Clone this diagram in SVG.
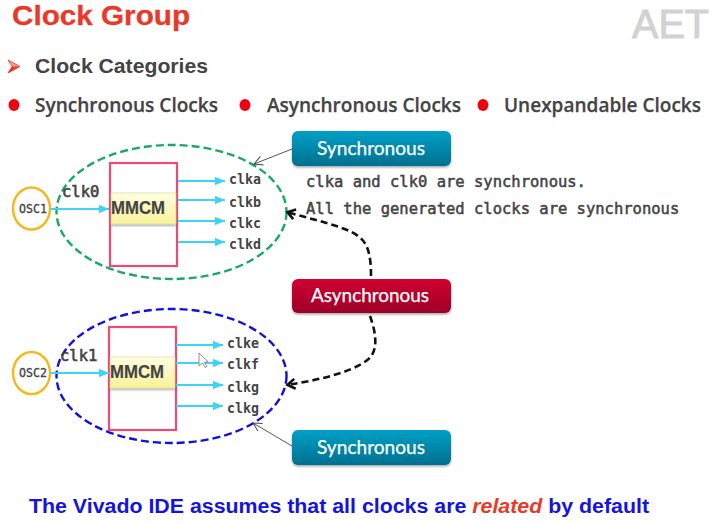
<svg xmlns="http://www.w3.org/2000/svg" width="712" height="523" viewBox="0 0 712 523">
<style>
.mono{font-family:"DejaVu Sans Mono","Liberation Mono",monospace;font-weight:700;fill:#444}
.clk{font-size:13.3px}
.note{font-size:15.5px;font-weight:400;stroke:#444;stroke-width:.5}
.clk0{font-size:15.5px;font-weight:400;stroke:#444;stroke-width:.6}
.osc{font-size:11.6px;font-weight:400;text-anchor:middle;stroke:#444;stroke-width:.3}
.mmcm{font-family:"Liberation Sans",Arial,sans-serif;font-weight:700;font-size:18.5px;fill:#444;stroke:#444;stroke-width:.2}
.btn{font-family:Lato,"Open Sans",sans-serif;font-size:19px;fill:#fff;stroke:#fff;stroke-width:.25;text-anchor:middle}
.head{font-family:"Open Sans","Noto Sans",sans-serif;font-size:19.5px;font-weight:600;fill:#444;stroke:#444;stroke-width:.25}
.cyan{stroke:#3dd3f5;stroke-width:2.2;fill:none;marker-end:url(#cy)}
.pink{fill:none;stroke:#ee4a78;stroke-width:2.2}
.yel{fill:url(#yl);stroke:#d8d68a;stroke-width:.6;filter:url(#sh)}
.oscc{fill:#fff;stroke:#f4b81c;stroke-width:2.4}
.dash{stroke:#111;stroke-width:2.6;fill:none;stroke-dasharray:7 4;marker-end:url(#bk)}
.thin{stroke:#444;stroke-width:.9;fill:none;marker-end:url(#op)}
.dot{fill:#f00010}
</style>
<defs>
<linearGradient id="bl" x1="0" y1="0" x2="0" y2="1"><stop offset="0" stop-color="#05a0c6"/><stop offset="1" stop-color="#04708f"/></linearGradient>
<linearGradient id="rd" x1="0" y1="0" x2="0" y2="1"><stop offset="0" stop-color="#cf0030"/><stop offset="1" stop-color="#9c0028"/></linearGradient>
<linearGradient id="yl" x1="0" y1="0" x2="0" y2="1"><stop offset="0" stop-color="#ffffe0"/><stop offset="1" stop-color="#f8f29a"/></linearGradient>
<filter id="sh" x="-10%" y="-10%" width="120%" height="130%"><feDropShadow dx="0" dy="1.5" stdDeviation="1.2" flood-color="#000" flood-opacity=".35"/></filter>
<marker id="cy" markerUnits="userSpaceOnUse" markerWidth="12" markerHeight="10" refX="10" refY="4.25" orient="auto"><path d="M0 0L10 4.25L0 8.500z" fill="#3dd3f5"/></marker>
<marker id="bk" markerUnits="userSpaceOnUse" markerWidth="12" markerHeight="14" refX="10" refY="6.5" orient="auto"><path d="M2 1.500L9.500 6.500L2 11.500" fill="none" stroke="#111" stroke-width="2.6"/></marker>
<marker id="op" markerUnits="userSpaceOnUse" markerWidth="12" markerHeight="12" refX="10" refY="5" orient="auto"><path d="M1.500 .5L10 5L1.500 9.500" fill="none" stroke="#444" stroke-width="1"/></marker>
</defs>
<rect width="712" height="523" fill="#fff"/>

<g id="title">
<text x="12" y="25" font-family="Liberation Sans,Arial,sans-serif" font-weight="700" font-size="27.5" fill="#e8392a" stroke="#e8392a" stroke-width=".3" textLength="178" lengthAdjust="spacingAndGlyphs">Clock Group</text>
</g>
<g id="logo"><text x="632" y="38" font-family="Liberation Sans,Arial,sans-serif" font-size="41" fill="#d2d2d2" stroke="#d2d2d2" stroke-width="1" textLength="77" lengthAdjust="spacingAndGlyphs">AET</text></g>
<g id="heading">
<path d="M8 60L20 66.500L8 73L12 66.500z" fill="#f8a090" stroke="#e8392a" stroke-width=".8"/>
<path d="M20 66.500L8 73L12 66.500z" fill="#e8392a"/>
<text x="35" y="73" font-family="Liberation Sans,Arial,sans-serif" font-weight="700" font-size="21" fill="#444" textLength="173" lengthAdjust="spacingAndGlyphs">Clock Categories</text>
</g>
<g id="categories">
<ellipse class="dot" cx="14" cy="105" rx="5.500" ry="6"/>
<text class="head" x="35" y="112" textLength="183" lengthAdjust="spacingAndGlyphs">Synchronous Clocks</text>
<ellipse class="dot" cx="245" cy="105" rx="5.500" ry="6"/>
<text class="head" x="267" y="112" textLength="194" lengthAdjust="spacingAndGlyphs">Asynchronous Clocks</text>
<ellipse class="dot" cx="483" cy="105" rx="5.500" ry="6"/>
<text class="head" x="504" y="112" textLength="197" lengthAdjust="spacingAndGlyphs">Unexpandable Clocks</text>
</g>

<g id="group-green"><ellipse cx="171.500" cy="212" rx="115" ry="67" fill="none" stroke="#1aa866" stroke-width="2.400" stroke-dasharray="8 4"/></g>
<g id="group-blue"><ellipse cx="171.500" cy="376" rx="115" ry="67" fill="none" stroke="#1010e0" stroke-width="2.400" stroke-dasharray="8 4"/></g>

<g id="osc1"><ellipse class="oscc" cx="31.500" cy="208.500" rx="18.500" ry="21"/><text class="mono osc" x="33" y="213">OSC1</text></g>
<g id="osc2"><ellipse class="oscc" cx="31.500" cy="373" rx="18.500" ry="21"/><text class="mono osc" x="33" y="377">OSC2</text></g>

<g id="mmcm1"><rect class="pink" x="110" y="163" width="67" height="103"/><rect class="yel" x="111" y="193" width="65" height="31"/><text class="mmcm" x="111" y="214" textLength="54" lengthAdjust="spacingAndGlyphs">MMCM</text></g>
<g id="mmcm2"><rect class="pink" x="109" y="327" width="67" height="103"/><rect class="yel" x="110" y="357" width="65" height="31"/><text class="mmcm" x="110" y="378" textLength="54" lengthAdjust="spacingAndGlyphs">MMCM</text></g>

<g id="connectors">
<path class="cyan" d="M51 209H109"/>
<path class="cyan" d="M178 181H225"/><path class="cyan" d="M178 200H225"/><path class="cyan" d="M178 221H225"/><path class="cyan" d="M178 242H225"/>
<path class="cyan" d="M51 373H109"/>
<path class="cyan" d="M176 345H223"/><path class="cyan" d="M176 363H223"/><path class="cyan" d="M176 385H223"/><path class="cyan" d="M176 406H223"/>
<path class="thin" d="M292 149L254 164"/>
<path class="thin" d="M292 446L253 423"/>
<path class="dash" d="M371 276C371 255 368 243 358 236C345 226 310 219 287 212"/>
<path class="dash" d="M370 316C375 330 378 345 372 355C362 370 320 380 287 385"/>
</g>

<g id="labels">
<text class="mono clk0" x="62" y="197">clk0</text>
<text class="mono clk0" x="60" y="361">clk1</text>
<text class="mono clk" x="229" y="184">clka</text>
<text class="mono clk" x="229" y="207">clkb</text>
<text class="mono clk" x="229" y="228">clkc</text>
<text class="mono clk" x="229" y="249">clkd</text>
<text class="mono clk" x="227" y="348">clke</text>
<text class="mono clk" x="227" y="369">clkf</text>
<text class="mono clk" x="227" y="392">clkg</text>
<text class="mono clk" x="227" y="413">clkg</text>
<text class="mono note" x="306" y="187">clka and clk0 are synchronous.</text>
<text class="mono note" x="306" y="214">All the generated clocks are synchronous</text>
</g>

<g id="sync1"><rect x="292" y="131" width="159" height="35" rx="6" fill="url(#bl)" filter="url(#sh)"/><text class="btn" x="371" y="155" textLength="108" lengthAdjust="spacingAndGlyphs">Synchronous</text></g>
<g id="async"><rect x="292" y="279" width="159" height="34" rx="6" fill="url(#rd)" filter="url(#sh)"/><text class="btn" x="370" y="302" textLength="118" lengthAdjust="spacingAndGlyphs">Asynchronous</text></g>
<g id="sync2"><rect x="292" y="430" width="159" height="35" rx="6" fill="url(#bl)" filter="url(#sh)"/><text class="btn" x="371" y="454" textLength="108" lengthAdjust="spacingAndGlyphs">Synchronous</text></g>

<path id="cursor" d="M199 353V366L202.500 363L205 367.500L207 366.500L204.500 362.500L208 361.500Z" fill="#fff" stroke="#777" stroke-width=".8"/>

<g id="footer"><text x="29" y="513" font-family="Liberation Sans,Arial,sans-serif" font-weight="700" font-size="20" fill="#1414e0" textLength="620" lengthAdjust="spacingAndGlyphs">The Vivado IDE assumes that all clocks are <tspan fill="#e8392a" font-style="italic">related</tspan> by default</text></g>
</svg>
